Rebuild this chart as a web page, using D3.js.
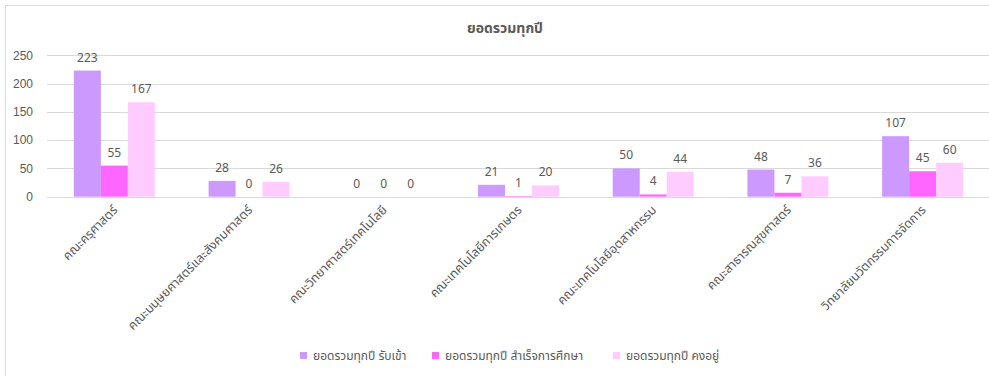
<!DOCTYPE html>
<html>
<head>
<meta charset="utf-8">
<script src="https://cdn.jsdelivr.net/npm/d3@7"></script>
<style>
  html, body { margin: 0; padding: 0; background: #fff; }
  svg { display: block; font-family: Tahoma, "Noto Sans Thai", "DejaVu Sans", "Noto Sans", sans-serif; }
</style>
</head>
<body>
<svg id="chart" width="989" height="376"></svg>
<script>
// Faculties (x-axis categories)
const categories = [
  "คณะครุศาสตร์",
  "คณะมนุษยศาสตร์และสังคมศาสตร์",
  "คณะวิทยาศาสตร์เทคโนโลยี",
  "คณะเทคโนโลยีการเกษตร",
  "คณะเทคโนโลยีอุตสาหกรรม",
  "คณะสาธารณสุขศาสตร์",
  "วิทยาลัยนวัตกรรมการจัดการ"
];
// Series
const seriesNames = [
  "ยอดรวมทุกปี รับเข้า",
  "ยอดรวมทุกปี สำเร็จการศึกษา",
  "ยอดรวมทุกปี คงอยู่"
];
const admitted  = [223, 28, 0, 21, 50, 48, 107];
const graduated = [55, 0, 0, 1, 4, 7, 45];
const remaining = [167, 26, 0, 20, 44, 36, 60];
const yTicks = [0, 50, 100, 150, 200, 250];
const title = "ยอดรวมทุกปี";

const colors = ["#CC99FF", "#FF66FF", "#FFCCFF"];
const seriesValues = [admitted, graduated, remaining];

const svg = d3.select("#chart");
const textColor = "#595959";

// chart frame
svg.append("rect")
  .attr("x", 5.5).attr("y", 5.5)
  .attr("width", 1000).attr("height", 400)
  .attr("fill", "#fff").attr("stroke", "#d9d9d9");

const plot = { left: 47, right: 990, top: 55.3, bottom: 196.7 };

const x0 = d3.scaleBand().domain(categories).range([plot.left, plot.right]).paddingInner(0).paddingOuter(0);
const bandInnerPad = (x0.bandwidth() - 81) / 2;
const x1 = d3.scaleBand().domain(d3.range(3)).range([bandInnerPad, x0.bandwidth() - bandInnerPad]).padding(0);
const y = d3.scaleLinear().domain([0, 250]).range([plot.bottom, plot.top]);

// title
svg.append("text")
  .attr("x", 505).attr("y", 33)
  .attr("text-anchor", "middle")
  .attr("font-size", 14).attr("font-weight", "bold")
  .attr("fill", textColor)
  .text(title);

// gridlines
svg.append("g").selectAll("line")
  .data(yTicks)
  .join("line")
  .attr("x1", plot.left).attr("x2", plot.right)
  .attr("y1", d => Math.round(y(d)) + 0.5).attr("y2", d => Math.round(y(d)) + 0.5)
  .attr("stroke", "#d9d9d9").attr("stroke-width", 1);

// y axis labels
const yAxis = d3.axisLeft(y).tickValues(yTicks).tickSize(0).tickPadding(0);
const gy = svg.append("g").attr("transform", `translate(33,0)`).call(yAxis);
gy.select(".domain").remove();
gy.selectAll("text").attr("font-size", 12).attr("fill", textColor).attr("font-family", null);

// bars
const groups = svg.append("g").selectAll("g")
  .data(categories)
  .join("g")
  .attr("transform", d => `translate(${x0(d)},0)`);

groups.selectAll("rect")
  .data((d, i) => seriesValues.map((s, k) => ({ k, v: s[i] })))
  .join("rect")
  .attr("x", d => x1(d.k))
  .attr("width", x1.bandwidth())
  .attr("y", d => y(d.v))
  .attr("height", d => y(0) - y(d.v))
  .attr("fill", d => colors[d.k]);

// value labels
groups.selectAll("text.val")
  .data((d, i) => seriesValues.map((s, k) => ({ k, v: s[i] })))
  .join("text")
  .attr("class", "val")
  .attr("x", d => x1(d.k) + x1.bandwidth() / 2)
  .attr("y", d => y(d.v) - 9)
  .attr("text-anchor", "middle")
  .attr("font-size", 12)
  .attr("fill", textColor)
  .text(d => d.v);

// x-axis category labels, rotated
svg.append("g").selectAll("text")
  .data(categories)
  .join("text")
  .attr("transform", d => `translate(${x0(d) + x0.bandwidth() / 2 + 4},${plot.bottom + 14}) rotate(-45)`)
  .attr("text-anchor", "end")
  .attr("font-size", 12.5)
  .attr("fill", textColor)
  .text(d => d);

// legend
const legendX = [300, 432, 613];
const legend = svg.append("g").selectAll("g")
  .data(seriesNames)
  .join("g")
  .attr("transform", (d, i) => `translate(${legendX[i]},352)`);
legend.append("rect").attr("width", 7).attr("height", 7).attr("fill", (d, i) => colors[i]);
legend.append("text")
  .attr("x", 13).attr("y", 8)
  .attr("font-size", 12).attr("fill", textColor)
  .text(d => d);
</script>
</body>
</html>
